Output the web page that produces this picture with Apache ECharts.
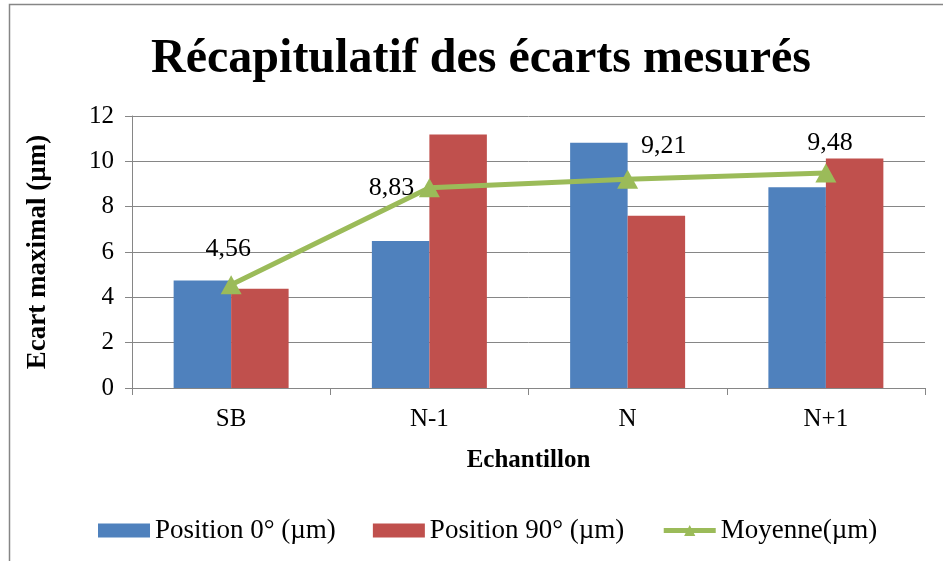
<!DOCTYPE html>
<html>
<head>
<meta charset="utf-8">
<script src="https://cdn.jsdelivr.net/npm/echarts@6/dist/echarts.min.js"></script>
<style>
  html, body { margin: 0; padding: 0; background: #fff; }
  #chart { width: 943px; height: 561px; }
</style>
</head>
<body>
<div id="chart"></div>
<script>
// Sample categories and measured deviations (µm)
const categories = ['SB', 'N-1', 'N', 'N+1'];
const position0 = [4.74, 6.48, 10.82, 8.86];
const position90 = [4.38, 11.18, 7.60, 10.12];
const moyenne = [4.56, 8.83, 9.21, 9.48];
const yTicks = { min: 0, max: 12, step: 2 };
const yAxisTitle = 'Ecart maximal (µm)';

const serif = '"Liberation Serif", "DejaVu Serif", serif';
const gridColor = '#868686';
const green = '#9BBB59';

// Individual label placements for the average line
const avgLabelOffsets = [[-3, 0], [-38, 36], [36, 2], [4, 6]];

const chart = echarts.init(document.getElementById('chart'));
chart.setOption({
  backgroundColor: '#fff',
  animation: false,
  title: {
    text: 'Récapitulatif des écarts mesurés',
    left: 476, top: 31, textAlign: 'center',
    textStyle: { fontFamily: serif, fontSize: 48, fontWeight: 'bold', color: '#000' }
  },
  graphic: [
    {
      type: 'rect', silent: true, z: -1,
      shape: { x: 9.5, y: 4.5, width: 1000, height: 700 },
      style: { fill: 'none', stroke: gridColor, lineWidth: 1.5 }
    },
    {
      // vertical title of the value axis
      type: 'text', silent: true,
      x: 38, y: 252, rotation: Math.PI / 2,
      style: {
        text: yAxisTitle, fontFamily: serif, fontSize: 27, fontWeight: 'bold',
        fill: '#000', align: 'center', verticalAlign: 'middle'
      }
    }
  ],
  grid: { left: 132, right: 18, top: 116, bottom: 173 },
  legend: {
    top: 512, left: 93,
    itemWidth: 52, itemHeight: 14, itemGap: 37,
    textStyle: { fontFamily: serif, fontSize: 27, color: '#000' },
    data: [
      { name: 'Position 0° (µm)', icon: 'rect' },
      { name: 'Position 90° (µm)', icon: 'rect' },
      { name: 'Moyenne(µm)', lineStyle: { width: 5 } }
    ]
  },
  xAxis: {
    type: 'category', data: categories,
    name: 'Echantillon', nameLocation: 'middle', nameGap: 60,
    nameTextStyle: { fontFamily: serif, fontSize: 25, fontWeight: 'bold', color: '#000' },
    axisLine: { lineStyle: { color: gridColor, width: 1 } },
    axisTick: { show: true, length: 7, lineStyle: { color: gridColor } },
    axisLabel: { fontFamily: serif, fontSize: 25, color: '#000', margin: 19 }
  },
  yAxis: {
    type: 'value', min: yTicks.min, max: yTicks.max, interval: yTicks.step,
    axisLine: { show: true, lineStyle: { color: gridColor, width: 1 } },
    axisTick: { show: true, length: 7, lineStyle: { color: gridColor } },
    axisLabel: { fontFamily: serif, fontSize: 25, color: '#000', margin: 18 },
    splitLine: { lineStyle: { color: gridColor, width: 1 } }
  },
  series: [
    {
      name: 'Position 0° (µm)', type: 'bar', data: position0,
      barGap: '0%', barCategoryGap: '42%',
      itemStyle: { color: '#4F81BD' }
    },
    {
      name: 'Position 90° (µm)', type: 'bar', data: position90,
      barGap: '0%', barCategoryGap: '42%',
      itemStyle: { color: '#C0504D' }
    },
    {
      name: 'Moyenne(µm)', type: 'line',
      data: moyenne.map((v, i) => ({
        value: v,
        label: { offset: avgLabelOffsets[i] }
      })),
      symbol: 'triangle', symbolSize: [21, 19],
      lineStyle: { color: green, width: 5 },
      itemStyle: { color: green },
      z: 5,
      label: {
        show: true, position: 'top', distance: 13,
        fontFamily: serif, fontSize: 26, color: '#000',
        formatter: p => String(p.value).replace('.', ',')
      }
    }
  ]
});
</script>
</body>
</html>
